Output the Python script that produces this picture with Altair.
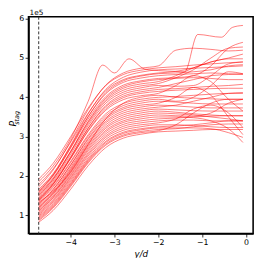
import altair as alt
import pandas as pd

# common x grid (y/d) for most curves
X = [-4.73, -4.4, -4.0, -3.6, -3.2, -2.8, -2.4, -2.0, -1.6, -1.2, -0.8, -0.4, -0.07]

# P_stag values (units of 1e5)
c01 = [1.92, 2.32, 3.00, 3.73, 4.30, 4.58, 4.69, 4.75, 4.78, 4.82, 4.85, 4.88, 4.90]
c03 = [1.78, 2.18, 2.86, 3.60, 4.17, 4.45, 4.56, 4.62, 4.66, 4.75, 4.90, 5.00, 5.10]
c04 = [1.72, 2.15, 2.89, 3.69, 4.31, 4.62, 4.74, 4.80, 5.20, 5.25, 5.22, 5.18, 5.20]
c05 = [1.66, 2.06, 2.76, 3.51, 4.09, 4.38, 4.49, 4.55, 4.58, 4.60, 4.62, 4.60, 4.58]
c06 = [1.62, 2.02, 2.71, 3.45, 4.02, 4.31, 4.42, 4.48, 4.50, 4.55, 4.80, 5.25, 5.40]
c07 = [1.58, 2.00, 2.73, 3.51, 4.12, 4.42, 4.54, 4.60, 4.62, 4.65, 4.70, 4.80, 4.83]
c08 = [1.55, 1.95, 2.63, 3.37, 3.94, 4.23, 4.34, 4.40, 4.55, 4.75, 4.90, 4.98, 4.98]
c09 = [1.50, 1.91, 2.62, 3.39, 3.98, 4.27, 4.39, 4.45, 4.48, 4.50, 4.48, 4.45, 4.45]
c10 = [1.47, 1.87, 2.55, 3.28, 3.85, 4.13, 4.24, 4.30, 4.28, 4.30, 4.55, 4.85, 4.90]
c11 = [1.44, 1.83, 2.49, 3.21, 3.76, 4.03, 4.14, 4.20, 4.22, 4.25, 4.28, 4.30, 4.33]
c12 = [1.42, 1.80, 2.44, 3.14, 3.67, 3.94, 4.04, 4.10, 4.30, 4.55, 4.40, 3.95, 3.65]
c13 = [1.40, 1.79, 2.45, 3.16, 3.71, 3.99, 4.10, 4.15, 4.18, 4.20, 4.22, 4.23, 4.23]
c14 = [1.37, 1.74, 2.37, 3.05, 3.58, 3.84, 3.95, 4.00, 4.02, 4.05, 4.08, 4.10, 4.10]
c15 = [1.35, 1.71, 2.34, 3.01, 3.53, 3.79, 3.90, 3.95, 3.90, 4.00, 4.30, 4.65, 4.60]
c16 = [1.33, 1.60, 2.10, 2.80, 3.45, 3.85, 4.00, 4.05, 4.00, 3.98, 3.96, 3.95, 3.95]
c17 = [1.30, 1.66, 2.27, 2.93, 3.44, 3.70, 3.80, 3.85, 4.00, 4.25, 4.05, 3.50, 3.05]
c18 = [1.28, 1.65, 2.28, 2.96, 3.48, 3.74, 3.85, 3.90, 3.88, 3.85, 3.83, 3.83, 3.83]
c19 = [1.25, 1.61, 2.22, 2.88, 3.39, 3.65, 3.75, 3.80, 3.78, 3.75, 3.73, 3.73, 3.73]
c20 = [1.22, 1.57, 2.18, 2.84, 3.35, 3.60, 3.70, 3.75, 3.80, 3.90, 4.00, 4.10, 4.12]
c21 = [1.20, 1.55, 2.15, 2.80, 3.30, 3.55, 3.65, 3.70, 3.68, 3.66, 3.65, 3.65, 3.65]
c22 = [1.18, 1.53, 2.12, 2.76, 3.25, 3.50, 3.60, 3.65, 3.62, 3.58, 3.55, 3.53, 3.53]
c23 = [1.15, 1.49, 2.08, 2.72, 3.21, 3.45, 3.55, 3.60, 3.58, 3.55, 3.50, 3.45, 3.40]
c24 = [1.12, 1.46, 2.04, 2.68, 3.16, 3.40, 3.50, 3.55, 3.53, 3.52, 3.60, 3.85, 3.95]
c25 = [1.10, 1.44, 2.01, 2.64, 3.12, 3.36, 3.45, 3.50, 3.50, 3.48, 3.40, 3.20, 2.85]
c26 = [1.07, 1.40, 1.97, 2.59, 3.07, 3.31, 3.40, 3.45, 3.47, 3.50, 3.52, 3.53, 3.53]
c27 = [1.04, 1.37, 1.94, 2.55, 3.02, 3.26, 3.35, 3.40, 3.42, 3.42, 3.40, 3.40, 3.40]
c28 = [1.01, 1.34, 1.90, 2.51, 2.98, 3.21, 3.30, 3.35, 3.45, 3.70, 3.80, 3.60, 3.23]
c29 = [0.98, 1.30, 1.86, 2.46, 2.93, 3.16, 3.25, 3.30, 3.30, 3.28, 3.25, 3.23, 3.23]
c30 = [0.95, 1.27, 1.82, 2.42, 2.88, 3.11, 3.20, 3.25, 3.27, 3.30, 3.35, 3.40, 3.40]
c31 = [0.92, 1.24, 1.79, 2.39, 2.85, 3.08, 3.17, 3.22, 3.22, 3.22, 3.20, 3.10, 2.98]
c32 = [0.89, 1.21, 1.76, 2.36, 2.81, 3.04, 3.13, 3.18, 3.20, 3.25, 3.30, 3.32, 3.32]
c33 = [0.86, 1.18, 1.73, 2.33, 2.78, 3.01, 3.10, 3.15, 3.30, 3.60, 3.85, 3.95, 3.95]
c34 = [1.60, 2.03, 2.78, 3.58, 4.20, 4.51, 4.64, 4.70, 4.72, 4.74, 4.76, 4.78, 4.80]
c35 = [1.52, 1.92, 2.60, 3.33, 3.90, 4.18, 4.29, 4.35, 4.50, 4.70, 5.00, 5.25, 5.28]
c36 = [1.38, 1.78, 2.47, 3.22, 3.79, 4.08, 4.19, 4.25, 4.35, 4.45, 4.55, 4.58, 4.60]
c37 = [0.82, 1.12, 1.66, 2.26, 2.72, 2.96, 3.06, 3.12, 3.14, 3.16, 3.18, 3.18, 3.18]

# the wiggly top curve has its own x positions
XA = [-4.73, -4.4, -4.0, -3.6, -3.27, -3.0, -2.67, -2.31, -2.0, -1.6, -1.4, -1.1, -0.56, -0.31, -0.07]
YA = [1.85, 2.25, 2.95, 3.90, 4.82, 4.62, 4.98, 4.72, 4.68, 4.66, 4.65, 5.60, 5.53, 5.78, 5.83]

DASH_X = [-4.73]
X_TICKS = [-4, -3, -2, -1, 0]
Y_TICKS = [1, 2, 3, 4, 5, 6]

curves = {
    "c01": c01, "c03": c03, "c04": c04, "c05": c05, "c06": c06, "c07": c07,
    "c08": c08, "c09": c09, "c10": c10, "c11": c11, "c12": c12, "c13": c13,
    "c14": c14, "c15": c15, "c16": c16, "c17": c17, "c18": c18, "c19": c19,
    "c20": c20, "c21": c21, "c22": c22, "c23": c23, "c24": c24, "c25": c25,
    "c26": c26, "c27": c27, "c28": c28, "c29": c29, "c30": c30, "c31": c31,
    "c32": c32, "c33": c33, "c34": c34, "c35": c35, "c36": c36, "c37": c37,
}

rows = []
for name, ys in curves.items():
    for xv, yv in zip(X, ys):
        rows.append({"curve": name, "x": xv, "p": yv})
for xv, yv in zip(XA, YA):
    rows.append({"curve": "cA", "x": xv, "p": yv})
df = pd.DataFrame(rows)

xscale = alt.Scale(domain=[-4.963, 0.163], nice=False, zero=False)
yscale = alt.Scale(domain=[0.53, 6.05], nice=False, zero=False)

xaxis = alt.Axis(values=X_TICKS, format="d", title="y/d", titleFontStyle="italic",
                 titleFontSize=9, titleFontWeight="normal", titlePadding=3)
yaxis = alt.Axis(values=Y_TICKS, format="d", title=None)

lines = alt.Chart(df).mark_line(
    color="#ff0000", opacity=0.6, strokeWidth=0.85, interpolate="monotone", clip=True
).encode(
    x=alt.X("x:Q", scale=xscale, axis=xaxis),
    y=alt.Y("p:Q", scale=yscale, axis=yaxis),
    detail="curve:N",
)

rule = alt.Chart(pd.DataFrame({"x": DASH_X})).mark_rule(
    color="#333333", strokeDash=[3, 2], strokeWidth=1
).encode(x=alt.X("x:Q", scale=xscale, axis=xaxis))

one = pd.DataFrame({"t": [0]})
p_txt = alt.Chart(one).mark_text(
    text="P", angle=270, fontSize=9.5, fontStyle="italic", font="DejaVu Sans",
    align="center", baseline="middle", color="black"
).encode(x=alt.value(-15.5), y=alt.value(109.5))
sub_txt = alt.Chart(one).mark_text(
    text="stag", angle=270, fontSize=6.5, fontStyle="italic", font="DejaVu Sans",
    align="center", baseline="middle", color="black"
).encode(x=alt.value(-12), y=alt.value(103.5))
exp_txt = alt.Chart(one).mark_text(
    text="1e5", fontSize=7.5, font="DejaVu Sans", align="left", baseline="alphabetic", color="black"
).encode(x=alt.value(1), y=alt.value(-1.5))

chart = alt.layer(lines, rule, p_txt, sub_txt, exp_txt).properties(
    width=230, height=222,
    autosize=alt.AutoSizeParams(type="none"),
    padding={"left": 21, "top": 6, "right": 5, "bottom": 22},
).configure_view(
    stroke="black", strokeWidth=1.6
).configure_axis(
    domainColor="black", domainWidth=1.6, tickColor="black", tickSize=3.5,
    tickWidth=0.8, labelColor="black", labelFont="DejaVu Sans", labelFontSize=8,
    labelPadding=1.5, grid=False, titleFont="DejaVu Sans", titleColor="black",
)

chart.save("out.html", embed_options={"renderer": "svg", "actions": False})
